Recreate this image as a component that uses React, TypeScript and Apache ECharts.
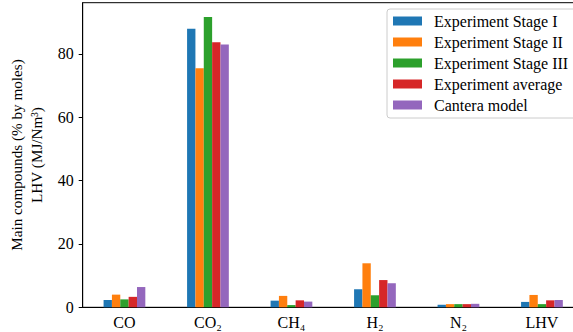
import React, { useEffect, useRef } from "react";
import * as echarts from "echarts";

const categories = ["CO", "CO₂", "CH₄", "H₂", "N₂", "LHV"];
const stage1 = [2.3, 88.0, 2.1, 5.7, 0.8, 1.7];
const stage2 = [4.0, 75.5, 3.6, 13.9, 1.0, 3.9];
const stage3 = [2.5, 91.7, 0.7, 3.8, 1.0, 1.0];
const average = [3.3, 83.7, 2.2, 8.6, 1.0, 2.2];
const cantera = [6.4, 83.0, 1.8, 7.6, 1.1, 2.3];
const seriesNames = [
  "Experiment Stage I",
  "Experiment Stage II",
  "Experiment Stage III",
  "Experiment average",
  "Cantera model",
];
const yTicks = [0, 20, 40, 60, 80];
const colors = ["#1f77b4", "#ff7f0e", "#2ca02c", "#d62728", "#9467bd"];

const FONT = "Liberation Serif";

export default function App() {
  const ref = useRef<HTMLDivElement>(null);
  useEffect(() => {
    if (!ref.current) return;
    const chart = echarts.init(ref.current, null, { renderer: "svg" });
    const data = [stage1, stage2, stage3, average, cantera];
    chart.setOption({
      animation: false,
      textStyle: { fontFamily: FONT },
      color: colors,
      grid: {
        left: 82.7,
        top: 2.7,
        bottom: 24.7,
        right: -10.7,
        show: true,
        borderColor: "#000",
        borderWidth: 1,
        containLabel: false,
        outerBoundsMode: "none",
      },
      legend: {
        orient: "vertical",
        left: 387,
        top: 9,
        padding: [4, 9, 5, 6],
        itemWidth: 29,
        itemHeight: 9,
        itemGap: 5,
        borderColor: "#cccccc",
        borderWidth: 1,
        borderRadius: 3,
        backgroundColor: "#fff",
        textStyle: { fontFamily: FONT, fontSize: 16, color: "#000", padding: [0, 0, 0, 7] },
        data: seriesNames.map((n) => ({ name: n, icon: "rect" })),
      },
      xAxis: {
        type: "category",
        data: categories,
        boundaryGap: true,
        axisLine: { lineStyle: { color: "#000", width: 1 } },
        axisTick: { alignWithLabel: true, length: 4, lineStyle: { color: "#000" } },
        axisLabel: { fontFamily: FONT, fontSize: 16, color: "#000", margin: 7 },
      },
      yAxis: {
        type: "value",
        min: 0,
        max: 96.2,
        interval: 20,
        name: "Main compounds (% by moles)\nLHV (MJ/Nm³)",
        nameLocation: "middle",
        nameRotate: 90,
        nameGap: 31,
        nameTextStyle: { fontFamily: FONT, fontSize: 15.2, color: "#000", lineHeight: 20 },
        splitLine: { show: false },
        axisLine: { show: true, lineStyle: { color: "#000", width: 1 } },
        axisTick: { show: true, length: 4, customValues: yTicks, lineStyle: { color: "#000" } },
        axisLabel: { fontFamily: FONT, fontSize: 16, color: "#000", margin: 9, customValues: yTicks },
      },
      series: seriesNames.map((name, i) => ({
        name,
        type: "bar",
        data: data[i],
        barGap: "0%",
        barCategoryGap: "50%",
        itemStyle: { color: colors[i] },
      })),
    });
    return () => chart.dispose();
  }, []);
  return (
    <div
      ref={ref}
      style={{ position: "fixed", left: 0, top: 0, width: 573, height: 332, background: "#fff" }}
    />
  );
}
